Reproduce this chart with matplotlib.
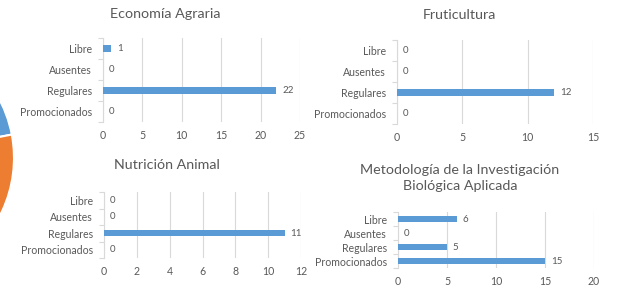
import matplotlib
matplotlib.use("Agg")
import matplotlib.pyplot as plt

plt.rcParams['font.family'] = ['Lato', 'DejaVu Sans']

categories = ["Libre", "Ausentes", "Regulares", "Promocionados"]

titles = ["Economía Agraria", "Fruticultura", "Nutrición Animal",
          "Metodología de la Investigación\nBiológica Aplicada"]
eco_values = [1, 0, 22, 0]
fruti_values = [0, 0, 12, 0]
nutri_values = [0, 0, 11, 0]
meto_values = [6, 0, 5, 15]
xmaxes = [25, 15, 12, 20]
xsteps = [5, 5, 2, 5]

pie_values = [22, 40, 38]
pie_colors = ["#5B9BD5", "#ED7D31", "#A5A5A5"]

W, H = 619, 294
fig = plt.figure(figsize=(W / 100, H / 100), dpi=100)

def rect(x0, y0, x1, y1):
    return [x0 / W, 1 - y1 / H, (x1 - x0) / W, (y1 - y0) / H]

# partial pie at the left edge
pax = fig.add_axes(rect(-236, 33, 14, 283))
pax.pie(pie_values, colors=pie_colors, startangle=90, counterclock=False,
        wedgeprops=dict(edgecolor="white", linewidth=1.5))
pax.set_xlim(-1, 1); pax.set_ylim(-1, 1)
pax.set_aspect("auto")
pax.axis("off")

boxes = [(103, 38, 300, 122), (397, 40, 593, 124),
         (104, 192, 301, 258), (398, 212, 594, 268)]
title_pos = [(165, 14), (459, 15), (167, 165), (460, 178)]
values_all = [eco_values, fruti_values, nutri_values, meto_values]
bar_h = [0.35, 0.35, 0.35, 0.4]

grey = "#595959"
grid = "#D9D9D9"

for i in range(4):
    x0, y0, x1, y1 = boxes[i]
    ax = fig.add_axes(rect(x0, y0, x1, y1))
    vals = values_all[i]
    pos = list(range(len(categories)))
    ax.barh(pos, vals, height=bar_h[i], color="#5B9BD5", zorder=3)
    ax.set_ylim(len(categories) - 0.5, -0.5)
    ax.set_xlim(0, xmaxes[i])
    ax.set_xticks(list(range(0, xmaxes[i] + 1, xsteps[i])))
    ax.set_yticks(pos)
    ax.set_yticklabels(categories)
    ax.set_yticks([p + 0.5 for p in range(-1, len(categories))], minor=True)
    ax.tick_params(axis="y", which="major", length=0, pad=8, labelsize=7.6, labelcolor=grey)
    ax.tick_params(axis="y", which="minor", length=3.5, color=grid, width=0.8)
    ax.tick_params(axis="x", length=0, pad=6, labelsize=7.6, labelcolor=grey)
    ax.grid(axis="x", color=grid, linewidth=0.8, zorder=0)
    for s in ["top", "right", "bottom"]:
        ax.spines[s].set_visible(False)
    ax.spines["left"].set_color(grid)
    ax.spines["left"].set_linewidth(0.8)
    for p, v in zip(pos, vals):
        ax.text(v + xmaxes[i] * 0.03, p, str(v), va="center", ha="left",
                fontsize=7, color=grey)
    tx, ty = title_pos[i]
    fig.text(tx / W, 1 - ty / H, titles[i], ha="center", va="center",
             fontsize=10.3, color=grey, linespacing=1.3)

fig.savefig("out.png", dpi=100)
